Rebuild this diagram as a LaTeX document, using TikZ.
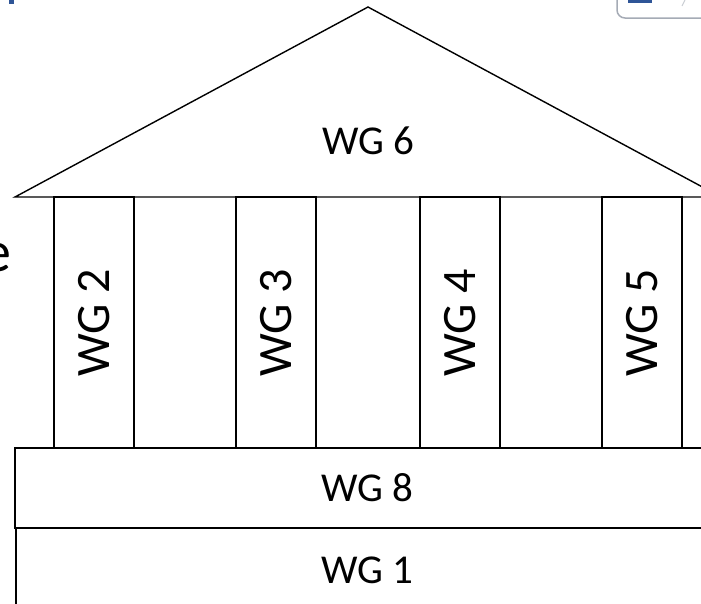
\documentclass[tikz,border=0pt]{standalone}
\usepackage{fontspec}
\setmainfont{Carlito}
\definecolor{titleblue}{HTML}{2F5597}
\definecolor{framegrey}{HTML}{A5ABB5}
\begin{document}
\begin{tikzpicture}[x = 1pt, y = -1pt, line width = 1.4pt,
    pillar/.style = {draw, rotate = 90, minimum width = 251pt, minimum height = 80pt, inner sep = 0pt, font = \fontsize{48}{50}\selectfont},
    slab/.style = {inner sep = 0pt, font = \fontsize{41}{43}\selectfont}]
    \useasboundingbox (0,0) rectangle (701,603);
    \clip (0,0) rectangle (701,603);
    \fill[titleblue] (9,0) rectangle (14,4);
    \draw[framegrey, line width = 1.5pt, rounded corners = 8pt] (617,-30) rectangle (760,18);
    \fill[titleblue] (628,0) rectangle (652,3);
    \draw[framegrey!60, line width = 1pt] (682,6) -- (685,0);
    \node[anchor = east, inner sep = 0pt, font = \fontsize{58}{60}\selectfont] (side) at (12,258) {e};
    \coordinate (L) at (15,197);
    \coordinate (T) at (368,7);
    \coordinate (R) at (721,197);
    \draw (L) -- (T) -- (R) -- cycle;
    \node[slab] (WG6) at (368,141) {WG 6};
    \node[pillar] (WG2) at (94,322.5) {WG 2};
    \node[pillar] (WG3) at (276,322.5) {WG 3};
    \node[pillar] (WG4) at (460,322.5) {WG 4};
    \node[pillar] (WG5) at (642,322.5) {WG 5};
    \draw (15,448) rectangle (760,528);
    \node[slab] (WG8) at (367,488) {WG 8};
    \draw (16,528) rectangle (760,650);
    \node[slab] (WG1) at (367,570) {WG 1};
\end{tikzpicture}
\end{document}
